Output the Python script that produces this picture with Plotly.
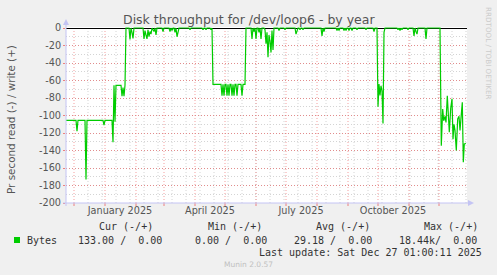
import pandas as pd
import plotly.graph_objects as go

# ---------------- data ----------------
start_date = "2024-11-23"
span_days = 401
day_offsets = [0, 10, 11, 12, 19, 20, 21, 37, 38, 39, 46, 47, 48, 49, 50, 55, 56, 57, 58, 59, 60,
               63, 64, 65, 66, 67, 68,
               77, 78, 79, 80, 81, 82, 83, 84, 85, 86,
               88, 89, 90, 91,
               96, 97, 98,
               103, 104, 105, 106, 107,
               108, 109, 110, 111, 112, 113,
               123, 124, 125,
               136, 137, 138, 139, 140, 141, 144, 145, 146,
               147, 155, 156, 157, 158, 159, 160, 161, 162, 163, 164, 165, 166, 167, 168, 169, 170, 171, 172, 175, 176, 177, 179, 180,
               185, 186, 187, 188, 189, 190, 191, 192, 193, 194, 195, 196, 198, 199, 200, 201, 202, 203, 204, 205, 206, 207, 208,
               212, 213, 214, 218, 219, 220, 229, 230, 231, 232, 233, 234, 235, 236, 237, 238,
               255, 256, 257, 258, 259,
               270, 271, 272, 273, 274, 277, 278, 279, 280, 281, 282, 283, 284, 285, 286, 287, 290, 291, 292, 299, 300, 301, 307, 308, 309,
               311, 312, 313, 314, 315, 316, 317, 318, 319,
               331, 332, 333, 334, 335, 336, 337, 341, 342, 343, 347, 348, 349, 350, 351, 352, 359, 360, 361,
               374, 375.3, 376.7, 377.7, 379, 380, 381.3, 382.3, 383.3, 384.7, 386, 387, 388, 389, 390.3, 391.7, 393, 394, 395.3, 396.3, 397.3, 398.3, 400]
read_values = [-105.5, -105.5, -118, -105.5, -105.5, -173, -105.5, -105.5, -111, -105.5, -105.5, -130.6, -65.5, -107, -65.5, -65.5, -78, -68, -78, -65.5, 0,
               0, -13, 0, -5, -12, 0,
               0, -12.5, -3, -8, -12.5, -2, -10, -4, -7, 0,
               -4, 0, -8, 0,
               0, -4, 0,
               0, -4, 0, -3, 0,
               0, -5, 0, -10, -3, 0,
               0, -2, 0,
               0, -2, 0, 0, -2, 0, 0, -2, 0,
               -64.4, -64.4, -77.4, -64.4, -77.4, -64.4, -64.4, -77.4, -64.4, -77.4, -64.4, -64.4, -77.4, -64.4, -77.4, -64.4, -64.4, -77.4, -64.4, -64.4, -77.4, -64.4, -64.4, 0,
               0, -12.5, 0, -4, 0, -12.5, 0, 0, -5, 0, -12.5, 0, 0, -2, -18, -5, -33.5, -8, -15, -28, -3, -25, 0,
               0, -3, 0, 0, -2, 0, 0, -7, -3, 0, 0, -2, 0, 0, -2, 0,
               0, -9, 0, -4, 0,
               0, -3, 0, -3, 0, 0, -3, 0, -3, 0, 0, -3, 0, 0, -3, 0, 0, -2, 0, 0, -2, 0, 0, -4, 0,
               0, -90, -64, -77, -66, -72, -109, -5, 0,
               0, -2, 0, -3, 0, -2, 0, 0, -2, 0, 0, -9, 0, -4, -7, 0, 0, -12.5, 0,
               0, -134.5, -92.6, -106, -101, -108, -77.4, -101, -119, -92, -81, -127, -110, -117, -140, -104, -101, -117, -101, -85, -153.5, -132.6, -132]

x_tick_dates = ["2025-01-16", "2025-04-16", "2025-07-16", "2025-10-16"]
x_tick_labels = ["January 2025", "April 2025", "July 2025", "October 2025"]
y_tick_values = [0, -20, -40, -60, -80, -100, -120, -140, -160, -180, -200]

title_text = "Disk throughput for /dev/loop6 - by year"
y_title = "Pr second read (-) / write (+)"
series_name = "Bytes"
legend_headers = ["Cur (-/+)", "Min (-/+)", "Avg (-/+)", "Max (-/+)"]
legend_values = ["133.00 /  0.00", "0.00 /  0.00", "29.18 /  0.00", "18.44k/  0.00"]
last_update = "Last update: Sat Dec 27 01:00:11 2025"
footer = "Munin 2.0.57"
watermark = "RRDTOOL / TOBI OETIKER"

# ---------------- figure ----------------
W, H = 497, 275
L, R, T, B = 66, 30, 27, 72
PW, PH = W - L - R, H - T - B

def px(xp):
    return (xp - L) / PW

def py(yp):
    return (H - B - yp) / PH

start = pd.Timestamp(start_date)
end = start + pd.Timedelta(days=span_days)
dates = start + pd.to_timedelta(day_offsets, unit="D")

fig = go.Figure()
fig.add_trace(go.Scatter(x=dates, y=read_values, mode="lines",
                         line=dict(color="#00CC00", width=1.2),
                         hoverinfo="skip", showlegend=False))

shapes = []
major_col = "rgba(235,80,80,0.55)"
minor_col = "#d4d4d4"
for d in pd.date_range("2024-12-15", end, freq="14D"):
    shapes.append(dict(type="line", xref="x", yref="paper", x0=d, x1=d, y0=0, y1=1,
                       line=dict(color=minor_col, width=1, dash="1px,2px"), layer="below"))
for d in pd.date_range("2024-12-01", end, freq="MS"):
    shapes.append(dict(type="line", xref="x", yref="paper", x0=d, x1=d, y0=0, y1=1,
                       line=dict(color=major_col, width=1, dash="1px,2px"), layer="below"))
    shapes.append(dict(type="line", xref="x", yref="paper", x0=d, x1=d, y0=0, y1=-3 / PH,
                       line=dict(color="rgba(235,80,80,0.7)", width=1), layer="above"))

axis_col = "#c4c4f4"
# axis lines with arrows
shapes.append(dict(type="line", xref="paper", yref="paper", x0=px(66), x1=px(66), y0=py(206), y1=py(23),
                   line=dict(color=axis_col, width=1), layer="above"))
shapes.append(dict(type="line", xref="paper", yref="paper", x0=px(63), x1=px(469), y0=py(203), y1=py(203),
                   line=dict(color=axis_col, width=1), layer="above"))
shapes.append(dict(type="path", xref="paper", yref="paper",
                   path=f"M {px(63)},{py(25)} L {px(69)},{py(25)} L {px(66)},{py(19)} Z",
                   fillcolor=axis_col, line=dict(width=0), layer="above"))
shapes.append(dict(type="path", xref="paper", yref="paper",
                   path=f"M {px(468)},{py(200)} L {px(468)},{py(206)} L {px(474)},{py(203)} Z",
                   fillcolor=axis_col, line=dict(width=0), layer="above"))
# legend swatch
shapes.append(dict(type="rect", xref="paper", yref="paper", x0=px(14), x1=px(20), y0=py(243), y1=py(237),
                   fillcolor="#00CC00", line=dict(width=0), layer="above"))

def ann(text, xp, yp, size, color, family, xanchor="left", textangle=0):
    return dict(text=text.replace(" ", "\u00a0"), x=px(xp), y=py(yp), xref="paper", yref="paper",
                showarrow=False, xanchor=xanchor, yanchor="middle", textangle=textangle,
                borderpad=0, font=dict(size=size, color=color, family=family))

sans = "DejaVu Sans"
mono = "DejaVu Sans Mono"
annotations = [
    ann(title_text, 248.5, 19, 12.5, "#555555", sans, xanchor="center"),
    ann(y_title, 11, 120, 10.4, "#555555", sans, xanchor="center", textangle=-90),
    ann(watermark, 489, 54, 7.2, "#cccccc", sans, xanchor="center", textangle=90),
    ann(series_name, 26, 240, 10, "#333333", mono),
    ann(last_update, 483, 252, 10, "#333333", mono, xanchor="right"),
    ann(footer, 248, 264, 7.5, "#c0c0c0", sans, xanchor="center"),
]
for txt, xp in zip(legend_headers, [98, 207, 315, 423]):
    annotations.append(ann(txt, xp, 227, 10, "#333333", mono))
for txt, xp in zip(legend_values, [77, 194, 293, 398]):
    annotations.append(ann(txt, xp, 240, 10, "#333333", mono))

fig.update_layout(
    width=W, height=H, autosize=False,
    margin=dict(l=L, r=R, t=T, b=B, pad=0),
    paper_bgcolor="#f0f0f0", plot_bgcolor="#ffffff",
    shapes=shapes, annotations=annotations, showlegend=False,
    xaxis=dict(type="date", range=[start, end], tickmode="array",
               tickvals=x_tick_dates, ticktext=x_tick_labels,
               showgrid=False, zeroline=False, showline=False, ticks="",
               tickfont=dict(family=sans, size=9.7, color="#555555")),
    yaxis=dict(range=[-200, 200 / 175], tickmode="array", tickvals=y_tick_values,
               ticktext=[str(v) for v in y_tick_values],
               showgrid=True, gridcolor=major_col, griddash="1px,2px", gridwidth=1,
               minor=dict(dtick=10, tick0=0, showgrid=True, gridcolor=minor_col, griddash="1px,2px"),
               zeroline=True, zerolinecolor="#000000", zerolinewidth=1,
               showline=False, ticks="outside", ticklen=2, tickcolor="rgba(235,80,80,0.7)",
               tickfont=dict(family=sans, size=9.7, color="#555555")),
)

fig.write_html("out.html", config={"displayModeBar": False})
